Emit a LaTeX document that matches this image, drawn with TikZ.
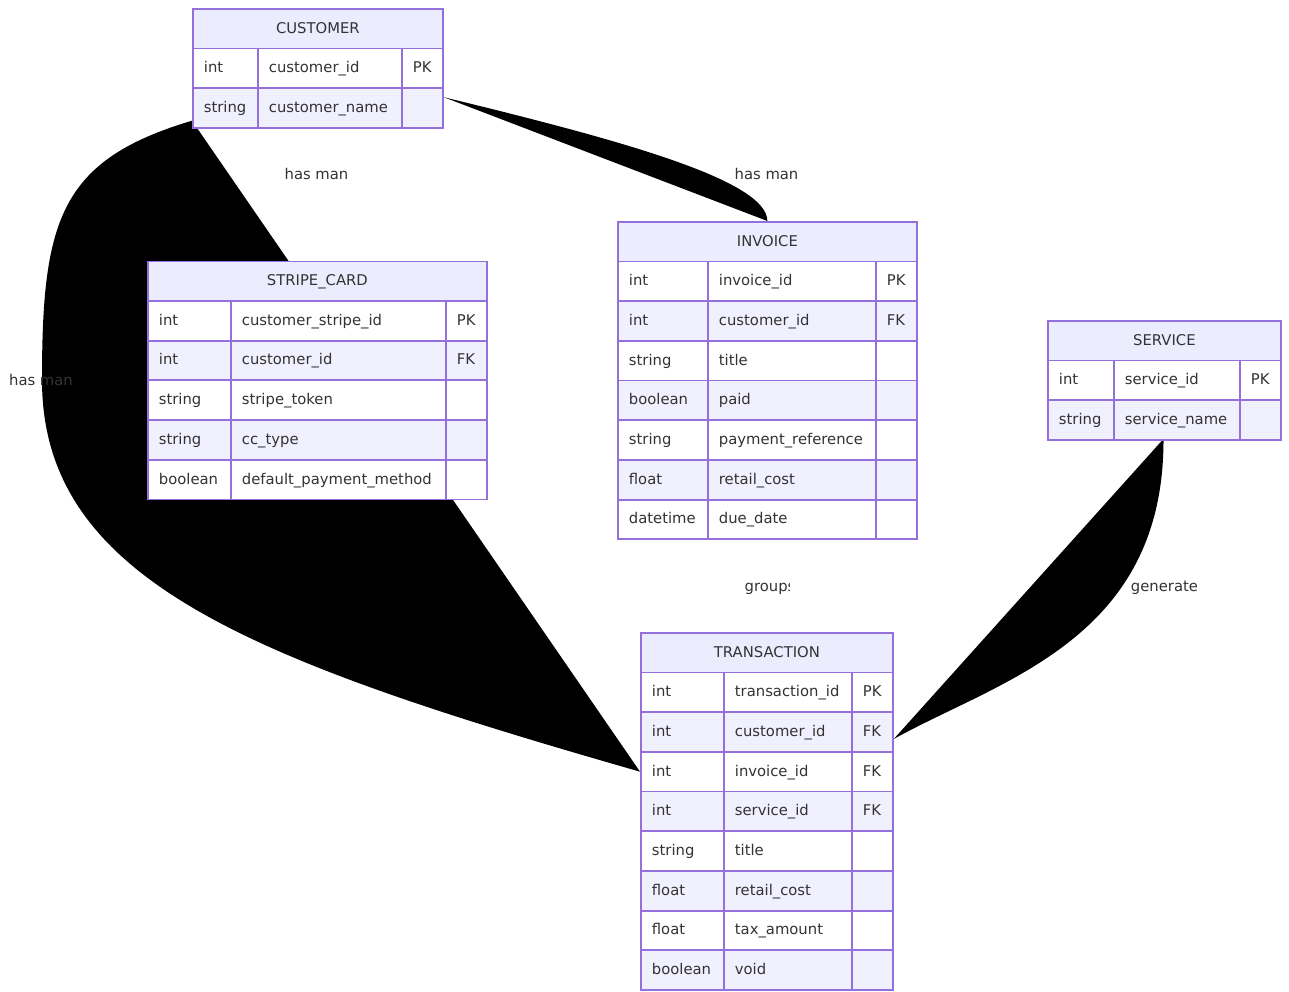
\documentclass[tikz,border=0pt]{standalone}
\usepackage{fontspec}
\setmainfont{DejaVu Sans}
\usetikzlibrary{backgrounds}
\definecolor{erborder}{HTML}{9370DB}
\definecolor{erhead}{HTML}{ECECFF}
\definecolor{errow}{HTML}{F1F0FF}
\definecolor{ertext}{HTML}{333333}
\tikzset{
  erbase/.style={draw=erborder, line width=1.8pt, text=ertext,
    font=\fontsize{14.8}{17}\selectfont, inner sep=0pt,
    minimum height=39.7pt, anchor=north west, text height=12pt, text depth=3pt},
  ertitle/.style={erbase, fill=erhead, align=center, minimum height=39.5pt},
  ercell/.style={erbase, align=left, inner xsep=11pt},
  rellabel/.style={text=ertext, font=\fontsize{14.8}{17}\selectfont, inner sep=0pt,
    text height=12pt, text depth=3pt},
  relshape/.style={fill=black, draw=none},
}
\newcommand\erentity[8]{%
  \pgfmathsetmacro\ertw{#4+#5+#6}%
  \node[ertitle, minimum width=\ertw pt] (#1) at (#2,#3) {#7};
  \foreach \ta/\na/\ka [count=\i] in {#8} {%
    \pgfmathtruncatemacro\erpar{mod(\i,2)}%
    \ifnum\erpar=1 \def\erfill{white}\else\def\erfill{errow}\fi
    \pgfmathsetmacro\ery{#3+39.5+(\i-1)*39.7}%
    \pgfmathsetmacro\erxb{#2+#4}%
    \pgfmathsetmacro\erxc{#2+#4+#5}%
    \pgfmathsetmacro\erwa{#4-22}%
    \pgfmathsetmacro\erwb{#5-22}%
    \pgfmathsetmacro\erwc{#6-22}%
    \node[ercell, fill=\erfill, minimum width=#4pt, text width=\erwa pt] (#1-t\i) at (#2,\ery) {\ta};
    \node[ercell, fill=\erfill, minimum width=#5pt, text width=\erwb pt] (#1-n\i) at (\erxb,\ery) {\na};
    \node[ercell, fill=\erfill, minimum width=#6pt, text width=\erwc pt] (#1-k\i) at (\erxc,\ery) {\ka};
    \coordinate (#1-b) at ({#2+\ertw/2},{\ery+39.7});
  }%
}
\begin{document}
\begin{tikzpicture}[x=1pt,y=-1pt]
\useasboundingbox (0,0) rectangle (1289,991);

\erentity{cust}{192}{8}{65}{144}{41}{CUSTOMER}{int/customer\_id/PK, string/customer\_name/{}}
\erentity{card}{147}{260.5}{83}{215}{41}{STRIPE\_CARD}{int/customer\_stripe\_id/PK, int/customer\_id/FK, string/stripe\_token/{}, string/cc\_type/{}, boolean/default\_payment\_method/{}}
\erentity{inv}{617}{221}{90}{168}{41}{INVOICE}{int/invoice\_id/PK, int/customer\_id/FK, string/title/{}, boolean/paid/{}, string/payment\_reference/{}, float/retail\_cost/{}, datetime/due\_date/{}}
\erentity{serv}{1047}{320}{66}{126}{41}{SERVICE}{int/service\_id/PK, string/service\_name/{}}
\erentity{trans}{640}{632}{83}{128}{41}{TRANSACTION}{int/transaction\_id/PK, int/customer\_id/FK, int/invoice\_id/FK, int/service\_id/FK, string/title/{}, float/retail\_cost/{}, float/tax\_amount/{}, boolean/void/{}}

\begin{pgfonlayer}{background}
  \fill[white] (0,0) rectangle (1289,991);
  % CUSTOMER -> TRANSACTION
  \fill[relshape] ([yshift=8pt]cust-t2.south west) .. controls (60,160) and (42,220) .. (42,380)
     .. controls (42,580) and (250,660) .. (trans-t3.west) -- cycle;
  % CUSTOMER -> INVOICE
  \fill[relshape] ([yshift=-10pt]cust-k2.north east) .. controls (620,140) and (767,180) .. (inv.north) -- cycle;
  % SERVICE -> TRANSACTION
  \fill[relshape] (serv-b) .. controls (1164,640) and (1000,680) .. ([yshift=-7pt]trans-k2.east) -- cycle;
\end{pgfonlayer}

\node[rellabel] (l1) at (316.5,175) {has man};
\node[rellabel] (l2) at (766.5,175) {has man};
\node[rellabel] (l3) at (41,381) {has man};
\begin{scope}
  \clip (700,560) rectangle (789.3,612);
  \node[rellabel, anchor=west] (l4) at (744.5,587) {groups};
\end{scope}
\node[rellabel] (l5) at (1164.5,587) {generate};
\end{tikzpicture}
\end{document}
